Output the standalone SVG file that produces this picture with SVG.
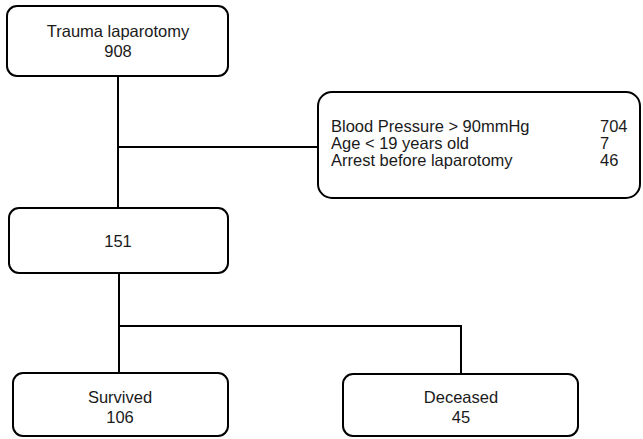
<svg xmlns="http://www.w3.org/2000/svg" width="643" height="439" viewBox="0 0 643 439">
<style>
.box{fill:#fff;stroke:#000;stroke-width:2}
.ln{fill:none;stroke:#000;stroke-width:2}
text{font-family:"Liberation Sans",Arial,sans-serif;font-size:16.5px;fill:#1a1a1a}
.c{text-anchor:middle}
</style>
<rect width="643" height="439" fill="#fff"/>
<g id="connectors">
<path class="ln" d="M118 76V208"/>
<path class="ln" d="M118 147H318"/>
<path class="ln" d="M119 273V373"/>
<path class="ln" d="M119 326H461V374"/>
</g>
<g id="n-trauma">
<rect class="box" x="7" y="6" width="221" height="70" rx="10"/>
<text class="c" x="118" y="37">Trauma laparotomy</text>
<text class="c" x="118" y="57">908</text>
</g>
<g id="n-excl">
<rect class="box" x="318" y="92" width="322" height="106" rx="14"/>
<text x="331" y="132">Blood Pressure &gt; 90mmHg</text>
<text x="331" y="149">Age &lt; 19 years old</text>
<text x="331" y="166">Arrest before laparotomy</text>
<text x="600" y="132">704</text>
<text x="600" y="149">7</text>
<text x="600" y="166">46</text>
</g>
<g id="n-151">
<rect class="box" x="9" y="208" width="219" height="65" rx="10"/>
<text class="c" x="118" y="247">151</text>
</g>
<g id="n-survived">
<rect class="box" x="13" y="373" width="215" height="63" rx="10"/>
<text class="c" x="120" y="403">Survived</text>
<text class="c" x="120" y="423">106</text>
</g>
<g id="n-deceased">
<rect class="box" x="343" y="374" width="235" height="62" rx="10"/>
<text class="c" x="461" y="403">Deceased</text>
<text class="c" x="461" y="423">45</text>
</g>
</svg>
